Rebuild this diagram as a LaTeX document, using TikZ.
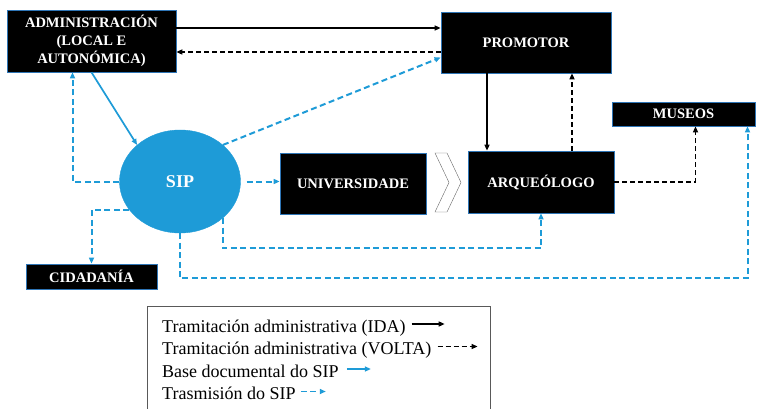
\documentclass[tikz,border=0pt]{standalone}
\usepackage{fontspec}
\setmainfont{Liberation Serif}
\usetikzlibrary{shapes.geometric,arrows.meta}
\definecolor{sipazul}{RGB}{30,155,215}
\definecolor{bordeazul}{RGB}{46,117,182}

\begin{document}
\begin{tikzpicture}[x=1pt, y=-1pt,
  caixa/.style={draw=bordeazul, fill=black, text=white, line width=0.7pt,
    font=\fontsize{14.5}{18}\selectfont\bfseries, align=center, inner sep=0pt},
  lenda/.style={font=\fontsize{18}{20}\selectfont, inner sep=0pt},
  ida/.style={line width=1.4pt, -{Triangle[length=6pt,width=5pt]}},
  volta/.style={ida, line width=1.8pt, dash pattern=on 5pt off 3pt},
  basedoc/.style={ida, color=sipazul, line width=1.7pt},
  trasm/.style={basedoc, line width=2pt, dash pattern=on 6pt off 3.5pt}]
\useasboundingbox (0, 0) rectangle (771, 409);

% caixas
\node (admin) at (91.5, 41) [caixa, minimum width=169pt, minimum height=62pt]
  {ADMINISTRACIÓN\\(LOCAL E\\AUTONÓMICA)};
\node (promotor) at (526, 42.5) [caixa, minimum width=170pt, minimum height=61pt] {PROMOTOR};
\node (univ) at (353, 183.5) [caixa, minimum width=146pt, minimum height=61pt] {UNIVERSIDADE};
\node (arq) at (541, 182) [caixa, minimum width=146pt, minimum height=62pt] {ARQUEÓLOGO};
\node (museos) at (683.5, 114) [caixa, minimum width=143pt, minimum height=24pt] {MUSEOS};
\node (cidadania) at (91.5, 276.5) [caixa, minimum width=131pt, minimum height=25pt] {CIDADANÍA};
\node (sip) at (180, 181.5) [ellipse, fill=sipazul, draw=sipazul, text=white,
  minimum width=121pt, minimum height=103pt, inner sep=0pt,
  font=\fontsize{18}{20}\selectfont\bfseries] {SIP};

% frecha entre universidade e arqueologo
\draw[thin, color=gray!80!black] (435, 153) -- (447, 153) -- (461, 182.5)
  -- (447, 212) -- (435, 212) -- (449, 182.5) -- cycle;

% tramitacion
\draw[ida] ([yshift=13pt]admin.east) -- ([yshift=13pt]admin.east -| promotor.west);
\draw[volta] ([yshift=-11pt]admin.east -| promotor.west) -- ([yshift=-11pt]admin.east);
\draw[ida] ([xshift=-39pt]promotor.south) -- ([xshift=-39pt]promotor.south |- arq.north);
\draw[volta] ([xshift=31pt]arq.north) -- ([xshift=31pt]arq.north |- promotor.south);
\draw[volta] (arq.east) -| ([xshift=12pt]museos.south);

% SIP
\draw[basedoc] (admin.south) -- (sip.north west);
\draw[trasm] (sip.west) -| ([xshift=-19pt]admin.south);
\draw[trasm] (sip.209) -| (cidadania.north);
\draw[trasm] ([xshift=6pt]sip.east) -- (sip.east -| univ.west);
\draw[trasm] (sip.north east) -- ([yshift=-15pt]promotor.west);
\draw[trasm] (sip.south east) |- ([yshift=-35pt]arq.south) -- (arq.south);
\draw[trasm] (sip.south) |- ([xshift=64pt, yshift=-152pt]museos.south)
  -- ([xshift=64pt]museos.south);

% lenda
\draw[thin, color=gray!70!black] (147, 306) rectangle (490, 412);
\node (l1) at (162, 332) [lenda, anchor=base west] {Tramitación administrativa (IDA)};
\node (l2) at (162, 354.5) [lenda, anchor=base west] {Tramitación administrativa (VOLTA)};
\node (l3) at (162, 377) [lenda, anchor=base west] {Base documental do SIP};
\node (l4) at (162, 399.5) [lenda, anchor=base west] {Trasmisión do SIP};
\draw[ida] ([xshift=6pt, yshift=8pt]l1.base east) -- ++(33, 0);
\draw[volta, line width=1.4pt] ([xshift=6pt, yshift=8pt]l2.base east) -- ++(40, 0);
\draw[basedoc, line width=1.4pt] ([xshift=8pt, yshift=8pt]l3.base east) -- ++(24, 0);
\draw[trasm, line width=1.5pt] ([xshift=5pt, yshift=8pt]l4.base east) -- ++(25, 0);
\end{tikzpicture}
\end{document}
